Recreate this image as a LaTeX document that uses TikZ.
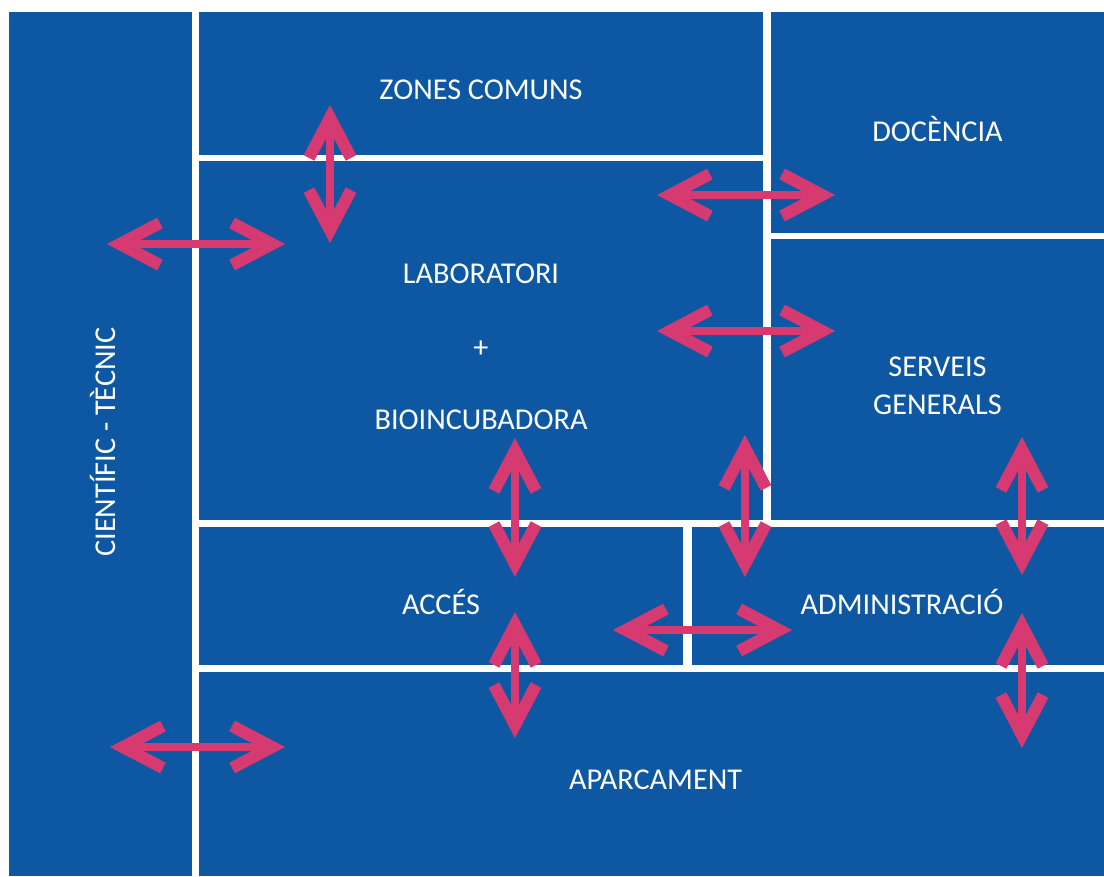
\documentclass[tikz,border=0pt]{standalone}
\usepackage{fontspec}
\setmainfont{Carlito}
\usetikzlibrary{arrows.meta,fit}
\definecolor{blauzona}{RGB}{14,88,163}
\definecolor{rosa}{RGB}{214,58,112}

\begin{document}
\begin{tikzpicture}[x=0.025cm,y=-0.025cm]

    % styles
    \tikzstyle{rotul} = [text=white,align=center,font=\fontsize{21.5}{27}\selectfont]
    \tikzstyle{zona} = [fill=blauzona,draw=none,inner sep=0pt]
    \tikzstyle{etiq} = [rotul,yshift=-0.15cm]
    \tikzstyle{flux} = [draw=rosa,line width=0.2cm,
        >={Straight Barb[length=1cm,width=1.05cm,line width=0.3cm]},<->]

    % fons
    \useasboundingbox (0,0) rectangle (1104,876);
    \fill[white] (0,0) rectangle (1104,876);

    % zones
    \node[zona,fit={(9,12) (192,876)},
        label={[rotul,rotate=90,xshift=0.05cm,yshift=-0.05cm]center:CIENTÍFIC - TÈCNIC}] (cien) {};
    \node[zona,fit={(199,12) (763,155)},
        label={[etiq]center:ZONES COMUNS}] (zones) {};
    \node[zona,fit={(771,12) (1104,233)},
        label={[etiq]center:DOCÈNCIA}] (doc) {};
    \node[zona,fit={(199,161) (763,520)},
        label={[etiq]center:LABORATORI\\[26pt]+\\[24pt]BIOINCUBADORA}] (lab) {};
    \node[zona,fit={(771,239) (1104,520)},
        label={[etiq]center:SERVEIS\\GENERALS}] (serv) {};
    \node[zona,fit={(199,527) (683,665)},
        label={[etiq]center:ACCÉS}] (acces) {};
    \node[zona,fit={(692,527) (1104,665)},
        label={[etiq,xshift=0.1cm]center:ADMINISTRACIÓ}] (admin) {};
    \node[zona,fit={(199,672) (1104,876)},
        label={[etiq,xshift=0.1cm]center:APARCAMENT}] (aparc) {};

    % extrems dels fluxos
    \coordinate (cl1) at (107,244);  \coordinate (cl2) at (285,244);
    \coordinate (zl1) at (330,105);  \coordinate (zl2) at (330,243);
    \coordinate (ld1) at (657,195);  \coordinate (ld2) at (835,195);
    \coordinate (ls1) at (657,331);  \coordinate (ls2) at (835,331);
    \coordinate (la1) at (515,438);  \coordinate (la2) at (515,577);
    \coordinate (lm1) at (745,435);  \coordinate (lm2) at (745,577);
    \coordinate (am1) at (613,630);  \coordinate (am2) at (792,630);
    \coordinate (ap1) at (515,612);  \coordinate (ap2) at (515,738);
    \coordinate (sm1) at (1022,437); \coordinate (sm2) at (1022,575);
    \coordinate (mp1) at (1022,613); \coordinate (mp2) at (1022,748);
    \coordinate (cp1) at (110,747);  \coordinate (cp2) at (285,747);

    % fluxos
    \foreach \f in {cl,zl,ld,ls,la,lm,am,ap,sm,mp,cp} {
        \draw[flux] (\f1) -- (\f2);
    }
\end{tikzpicture}
\end{document}
